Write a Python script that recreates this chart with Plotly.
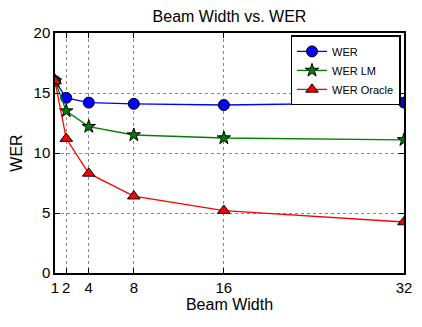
import plotly.graph_objects as go

beam = [1, 2, 4, 8, 16, 32]
wer = [16.0, 14.6, 14.2, 14.1, 14.0, 14.2]
wer_lm = [16.0, 13.5, 12.2, 11.5, 11.25, 11.1]
wer_oracle = [16.0, 11.2, 8.3, 6.4, 5.2, 4.25]
y_ticks = [0, 5, 10, 15, 20]

fig = go.Figure()
fig.add_trace(go.Scatter(x=beam, y=wer, name="WER", mode="lines+markers",
                         line=dict(color="blue", width=1.3),
                         marker=dict(symbol="circle", size=11, color="blue",
                                     line=dict(color="black", width=1))))
fig.add_trace(go.Scatter(x=beam, y=wer_lm, name="WER LM", mode="lines+markers",
                         line=dict(color="green", width=1.3),
                         marker=dict(symbol="star", size=10, color="green",
                                     line=dict(color="black", width=1))))
fig.add_trace(go.Scatter(x=beam, y=wer_oracle, name="WER Oracle", mode="lines+markers",
                         line=dict(color="red", width=1.3),
                         marker=dict(symbol="triangle-up", size=11, color="red",
                                     line=dict(color="black", width=1))))

axis_style = dict(showline=True, linecolor="black", linewidth=1.5, mirror="ticks",
                  ticks="inside", ticklen=5, tickcolor="black",
                  showgrid=True, gridcolor="#888", griddash="dot", gridwidth=1,
                  zeroline=False, automargin=False, tickfont=dict(size=15, color="black"))

fig.update_xaxes(range=[1, 32], tickvals=beam, ticktext=["1", "2", "4", "8", "16", "32"],
                 title=dict(text="Beam Width", font=dict(size=16), standoff=2), **axis_style)
fig.update_yaxes(range=[0, 20], tickvals=y_ticks,
                 title=dict(text="WER", font=dict(size=16), standoff=8), **axis_style)

# the page body adds an 8px offset, so the figure is 8px smaller than the window
fig.update_layout(
    width=414, height=319,
    margin=dict(l=47, r=18, t=25, b=54),
    paper_bgcolor="white", plot_bgcolor="white",
    font=dict(family="Liberation Sans, Arial, sans-serif", color="black"),
    title=dict(text="Beam Width vs. WER", x=0.5, xref="paper", xanchor="center",
               y=0.99, yanchor="top", font=dict(size=16)),
    legend=dict(x=0.99, y=0.99, xanchor="right", yanchor="top",
                bordercolor="black", borderwidth=1.5, bgcolor="white",
                font=dict(size=11), tracegroupgap=0, itemwidth=30),
)

fig.write_html("out.html")
